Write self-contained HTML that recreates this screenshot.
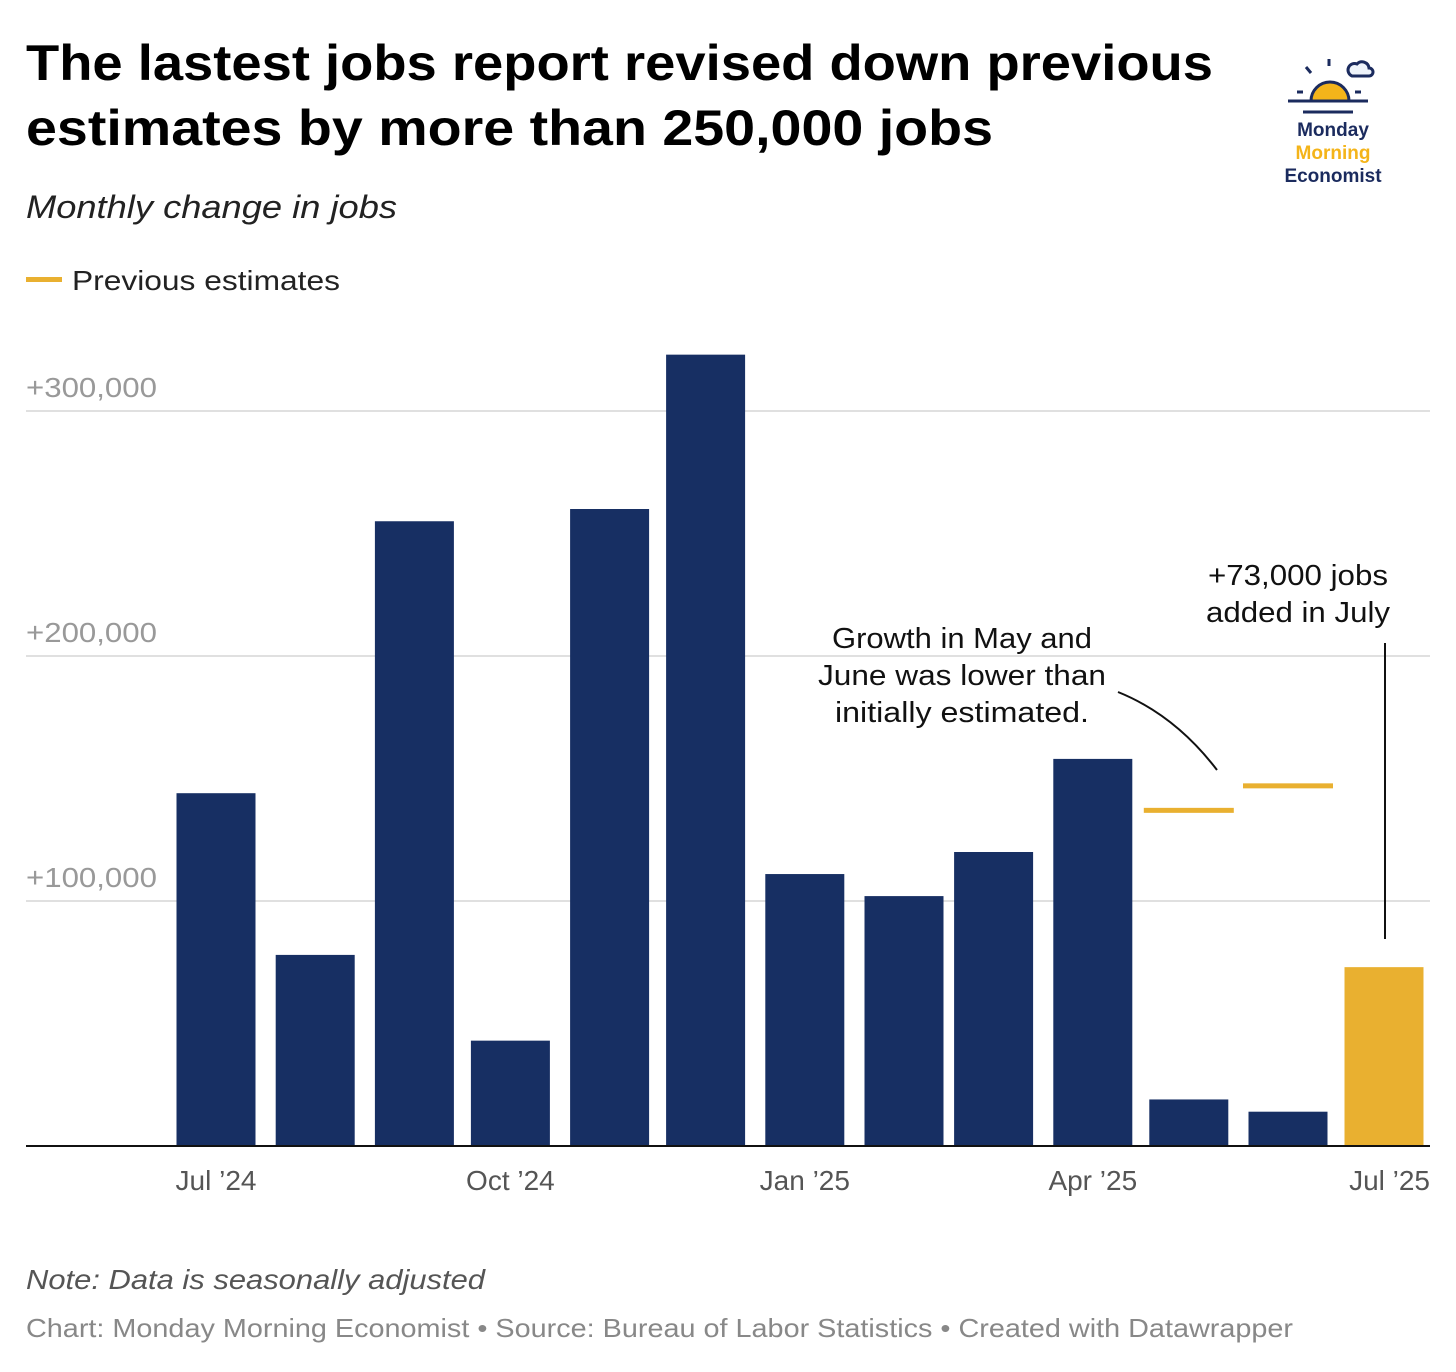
<!DOCTYPE html>
<html><head><meta charset="utf-8">
<style>
body{margin:0;background:#fff;}
svg{display:block;font-family:"Liberation Sans",Arial,sans-serif;}
</style></head>
<body>
<svg id="chart" width="1456" height="1372" viewBox="0 0 1456 1372">
<text x="26" y="80" font-size="50" font-weight="bold" fill="#000" textLength="1187" lengthAdjust="spacingAndGlyphs">The lastest jobs report revised down previous</text>
<text x="26" y="145" font-size="50" font-weight="bold" fill="#000" textLength="967" lengthAdjust="spacingAndGlyphs">estimates by more than 250,000 jobs</text>
<text x="26" y="218" font-size="32" font-style="italic" fill="#222" textLength="371" lengthAdjust="spacingAndGlyphs">Monthly change in jobs</text>
<g>
<rect x="26" y="277" width="36" height="5" fill="#e9b030"/>
<text x="72" y="290" font-size="28" fill="#222" textLength="268" lengthAdjust="spacingAndGlyphs">Previous estimates</text>
</g>
<g>
<line x1="1306" y1="67" x2="1311" y2="73" stroke="#1b2b5e" stroke-width="3"/>
<line x1="1329" y1="59" x2="1329" y2="66" stroke="#1b2b5e" stroke-width="3"/>
<path d="M1311 101 A19 19 0 0 1 1349 101 Z" fill="#f4b41a" stroke="#1b2b5e" stroke-width="3"/>
<line x1="1297" y1="92" x2="1303" y2="92" stroke="#1b2b5e" stroke-width="3"/>
<line x1="1355" y1="92" x2="1361" y2="92" stroke="#1b2b5e" stroke-width="3"/>
<line x1="1288" y1="101" x2="1368" y2="101" stroke="#1b2b5e" stroke-width="3"/>
<line x1="1303" y1="112" x2="1353" y2="112" stroke="#1b2b5e" stroke-width="3"/>
<path d="M1352 76 a6 6 0 0 1 5-12 a7 7 0 0 1 12 4 a4 4 0 0 1 0 8 Z" fill="#eef3fa" stroke="#1b2b5e" stroke-width="3"/>
<text x="1333" y="136" font-size="19" font-weight="bold" fill="#1b2b5e" text-anchor="middle">Monday</text>
<text x="1333" y="159" font-size="19" font-weight="bold" fill="#f4b41a" text-anchor="middle">Morning</text>
<text x="1333" y="182" font-size="19" font-weight="bold" fill="#1b2b5e" text-anchor="middle">Economist</text>
</g>
<g id="grid"></g>
<g id="bars"></g>
<g id="prev"></g>
<g id="xlabels"></g>
<g>
<text x="962" y="648" font-size="29" fill="#111" text-anchor="middle" textLength="260" lengthAdjust="spacingAndGlyphs">Growth in May and</text>
<text x="962" y="685" font-size="29" fill="#111" text-anchor="middle" textLength="288" lengthAdjust="spacingAndGlyphs">June was lower than</text>
<text x="962" y="722" font-size="29" fill="#111" text-anchor="middle" textLength="254" lengthAdjust="spacingAndGlyphs">initially estimated.</text>
<path d="M1118 692 Q1175 715 1217 770" fill="none" stroke="#111" stroke-width="2"/>
</g>
<g>
<text x="1298" y="585" font-size="29" fill="#111" text-anchor="middle" textLength="180" lengthAdjust="spacingAndGlyphs">+73,000 jobs</text>
<text x="1298" y="622" font-size="29" fill="#111" text-anchor="middle" textLength="184" lengthAdjust="spacingAndGlyphs">added in July</text>
<line x1="1385" y1="643" x2="1385" y2="939" stroke="#111" stroke-width="2"/>
</g>
<text x="26" y="1289" font-size="28" font-style="italic" fill="#555" textLength="459" lengthAdjust="spacingAndGlyphs">Note: Data is seasonally adjusted</text>
<text x="26" y="1337" font-size="26" fill="#888" textLength="1267" lengthAdjust="spacingAndGlyphs">Chart: Monday Morning Economist • Source: Bureau of Labor Statistics • Created with Datawrapper</text>
</svg>
<script>
const months = ["2024-07","2024-08","2024-09","2024-10","2024-11","2024-12","2025-01","2025-02","2025-03","2025-04","2025-05","2025-06","2025-07"];
const jobValues = [144000,78000,255000,43000,260000,323000,111000,102000,120000,158000,19000,14000,73000];
const prevMonths = ["2025-05","2025-06"];
const prevValues = [137000,147000];
const yTicks = [100000,200000,300000];
const yTickLabels = ["+100,000","+200,000","+300,000"];
const xTickMonths = ["2024-07","2024-10","2025-01","2025-04","2025-07"];
const xTickLabels = ["Jul \u201924","Oct \u201924","Jan \u201925","Apr \u201925","Jul \u201925"];

const NS="http://www.w3.org/2000/svg";
const t0=Date.UTC(2024,6,1), t1=Date.UTC(2025,6,1);
function xs(m){const [y,mo]=m.split("-").map(Number);const t=Date.UTC(y,mo-1,1);return 216+(t-t0)/(t1-t0)*(1384-216);}
function ys(v){return 1146-v/100000*245;}
function mk(tag,attrs,parent){const e=document.createElementNS(NS,tag);for(const k in attrs)e.setAttribute(k,attrs[k]);parent.appendChild(e);return e;}
const grid=document.getElementById("grid");
yTicks.forEach((v,i)=>{
  const l=mk("line",{x1:26,x2:1430,y1:ys(v),y2:ys(v),stroke:"#e0e0e0","stroke-width":2},grid);
  
  
  const t=mk("text",{x:26,y:ys(v)-14,"font-size":28,fill:"#999",textLength:131,lengthAdjust:"spacingAndGlyphs"},grid);
  t.textContent=yTickLabels[i];
  
  
});
const bars=document.getElementById("bars");
const bw=79;
months.forEach((m,i)=>{
  const x=xs(m), v=jobValues[i];
  const r=mk("rect",{x:x-bw/2,y:ys(v),width:bw,height:1146-ys(v),fill:i===months.length-1?"#e9b030":"#172f63"},bars);
  
  
});
const base=mk("line",{x1:26,x2:1430,y1:1146,y2:1146,stroke:"#111","stroke-width":2},bars);


const prev=document.getElementById("prev");
prevMonths.forEach((m,i)=>{
  const x=xs(m);
  const r=mk("rect",{x:x-45,y:ys(prevValues[i])-2.5,width:90,height:5,fill:"#e9b030"},prev);
  
  
});
const xl=document.getElementById("xlabels");
xTickMonths.forEach((m,i)=>{
  let x=xs(m), anchor="middle";
  if(i===xTickMonths.length-1){x=1430;anchor="end";}
  const t=mk("text",{x:x,y:1190,"font-size":28,fill:"#555","text-anchor":anchor},xl);
  t.textContent=xTickLabels[i];
  
  
});
</script>
</body></html>
